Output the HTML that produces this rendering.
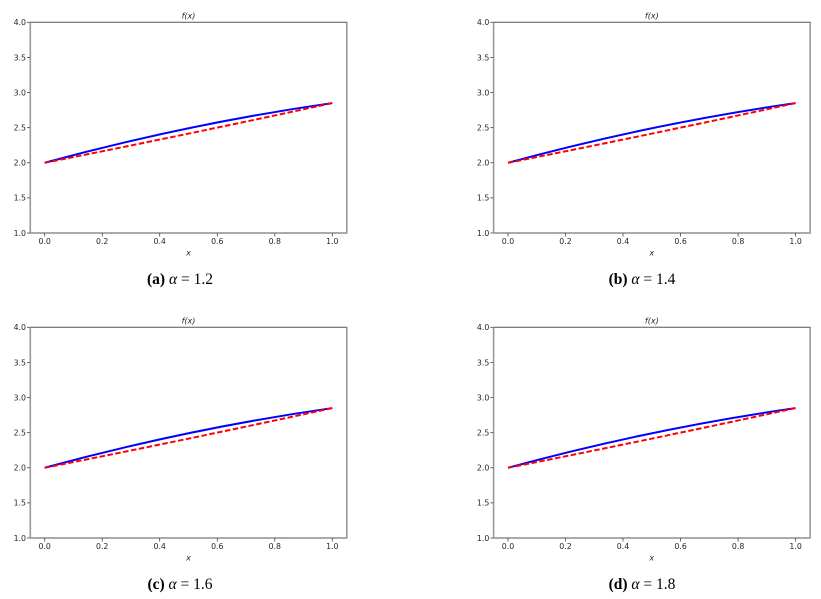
<!DOCTYPE html>
<html>
<head>
<meta charset="utf-8">
<style>
html,body{margin:0;padding:0;background:#fff;}
svg{display:block;}
.t{font-family:"DejaVu Sans","Liberation Sans",sans-serif;font-size:7.8px;fill:#262626;}
.ti{font-family:"DejaVu Sans","Liberation Sans",sans-serif;font-size:8px;font-style:italic;fill:#262626;}
.cap{font-family:"Liberation Serif",serif;font-size:15.5px;fill:#000;}
</style>
</head>
<body>
<svg width="821" height="599" viewBox="0 0 821 599" xmlns="http://www.w3.org/2000/svg">
<defs>
<g id="panel">
  <rect x="30" y="22.3" width="317.5" height="210.7" fill="#fff"/>
  <line x1="30" y1="22.3" x2="347.5" y2="22.3" stroke="#555" stroke-width="1"/>
  <line x1="30" y1="233" x2="347.5" y2="233" stroke="#555" stroke-width="1"/>
  <line x1="30.3" y1="22.3" x2="30.3" y2="233" stroke="#999" stroke-width="1.6"/>
  <line x1="346.8" y1="22.3" x2="346.8" y2="233" stroke="#999" stroke-width="1.6"/>
  <g stroke="#444" stroke-width="0.8">
    <line x1="27" y1="233" x2="30" y2="233"/>
    <line x1="27" y1="197.88" x2="30" y2="197.88"/>
    <line x1="27" y1="162.77" x2="30" y2="162.77"/>
    <line x1="27" y1="127.65" x2="30" y2="127.65"/>
    <line x1="27" y1="92.53" x2="30" y2="92.53"/>
    <line x1="27" y1="57.42" x2="30" y2="57.42"/>
    <line x1="27" y1="22.3" x2="30" y2="22.3"/>
    <line x1="44.7" y1="233" x2="44.7" y2="236.5"/>
    <line x1="102.2" y1="233" x2="102.2" y2="236.5"/>
    <line x1="159.7" y1="233" x2="159.7" y2="236.5"/>
    <line x1="217.3" y1="233" x2="217.3" y2="236.5"/>
    <line x1="274.8" y1="233" x2="274.8" y2="236.5"/>
    <line x1="332.3" y1="233" x2="332.3" y2="236.5"/>
  </g>
  <g class="t" text-anchor="end">
    <text x="26" y="235.8">1.0</text>
    <text x="26" y="200.7">1.5</text>
    <text x="26" y="165.6">2.0</text>
    <text x="26" y="130.5">2.5</text>
    <text x="26" y="95.4">3.0</text>
    <text x="26" y="60.3">3.5</text>
    <text x="26" y="25.1">4.0</text>
  </g>
  <g class="t" text-anchor="middle">
    <text x="44.7" y="243.8">0.0</text>
    <text x="102.2" y="243.8">0.2</text>
    <text x="159.7" y="243.8">0.4</text>
    <text x="217.3" y="243.8">0.6</text>
    <text x="274.8" y="243.8">0.8</text>
    <text x="332.3" y="243.8">1.0</text>
  </g>
  <text class="ti" x="188.5" y="18.5" text-anchor="middle">f(x)</text>
  <text class="ti" x="188.5" y="255.5" text-anchor="middle">x</text>
  <path d="M44.7,162.77 Q188.5,123.6 332.3,103.07" fill="none" stroke="#0000ff" stroke-width="2"/>
  <path d="M44.7,162.77 Q188.5,134.32 332.3,103.07" fill="none" stroke="#ff0000" stroke-width="2" stroke-dasharray="5.5,2.5"/>
</g>
</defs>
<use href="#panel" x="0" y="0"/>
<use href="#panel" x="463.3" y="0"/>
<use href="#panel" x="0" y="305"/>
<use href="#panel" x="463.3" y="305"/>

<text class="cap" x="180" y="284" text-anchor="middle"><tspan font-weight="bold">(a)</tspan> <tspan font-style="italic">α</tspan> = 1.2</text>
<text class="cap" x="642" y="284" text-anchor="middle"><tspan font-weight="bold">(b)</tspan> <tspan font-style="italic">α</tspan> = 1.4</text>
<text class="cap" x="180" y="589" text-anchor="middle"><tspan font-weight="bold">(c)</tspan> <tspan font-style="italic">α</tspan> = 1.6</text>
<text class="cap" x="642" y="589" text-anchor="middle"><tspan font-weight="bold">(d)</tspan> <tspan font-style="italic">α</tspan> = 1.8</text>
</svg>
</body>
</html>
